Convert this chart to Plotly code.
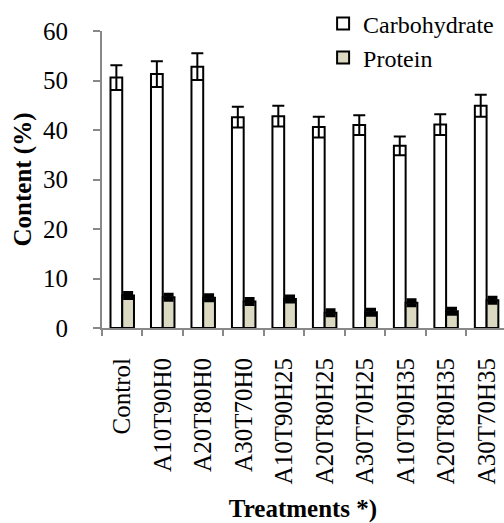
import plotly.graph_objects as go

treatments = ["Control", "A10T90H0", "A20T80H0", "A30T70H0", "A10T90H25",
              "A20T80H25", "A30T70H25", "A10T90H35", "A20T80H35", "A30T70H35"]
carbohydrate = [50.6, 51.3, 52.8, 42.6, 42.8, 40.6, 41.0, 36.8, 41.1, 44.9]
carbohydrate_err = [2.5, 2.6, 2.7, 2.1, 2.1, 2.1, 2.0, 1.9, 2.1, 2.2]
protein = [6.55, 6.2, 6.1, 5.35, 5.85, 3.1, 3.2, 5.1, 3.4, 5.6]
protein_err = [0.5, 0.5, 0.5, 0.5, 0.5, 0.5, 0.5, 0.5, 0.5, 0.5]

FONT = "Liberation Serif"

fig = go.Figure()
fig.add_trace(go.Bar(
    x=treatments, y=carbohydrate, name="Carbohydrate",
    marker=dict(color="white", line=dict(color="black", width=2)),
    error_y=dict(type="data", array=carbohydrate_err, color="black", thickness=2, width=6),
))
fig.add_trace(go.Bar(
    x=treatments, y=protein, name="Protein",
    marker=dict(color="#DCD9C3", line=dict(color="black", width=2)),
    error_y=dict(type="data", array=protein_err, color="black", thickness=4, width=5),
))

fig.update_layout(
    width=504, height=523,
    margin=dict(l=102, r=0, t=31, b=195),
    paper_bgcolor="white", plot_bgcolor="white",
    barmode="group", bargap=0.42, bargroupgap=0,
    font=dict(family=FONT, size=25, color="black"),
    showlegend=True,
    legend=dict(x=0.55, y=1.1, xanchor="left", yanchor="top",
                font=dict(family=FONT, size=24, color="black"),
                bgcolor="rgba(0,0,0,0)", tracegroupgap=0, itemwidth=30),
)
fig.update_xaxes(
    range=[-0.5, 9.43], showline=True, linecolor="#888888", linewidth=2,
    ticks="outside", tickson="boundaries", ticklen=6, tickcolor="#888888", tickwidth=2,
    tickangle=-90, tickfont=dict(family=FONT, size=25, color="black"),
    showgrid=False, zeroline=False, ticklabelstandoff=18,
    title=dict(text="Treatments *)", font=dict(family=FONT, size=25, color="black", weight="bold"), standoff=18),
)
fig.update_yaxes(
    range=[0, 60], dtick=10, showline=True, linecolor="#888888", linewidth=2,
    ticks="outside", ticklen=7, tickcolor="#888888", tickwidth=2,
    tickfont=dict(family=FONT, size=25, color="black"),
    showgrid=False, zeroline=False, ticklabelstandoff=20,
    title=dict(text="Content (%)", font=dict(family=FONT, size=25, color="black", weight="bold"), standoff=4),
)

fig.write_html("out.html")
